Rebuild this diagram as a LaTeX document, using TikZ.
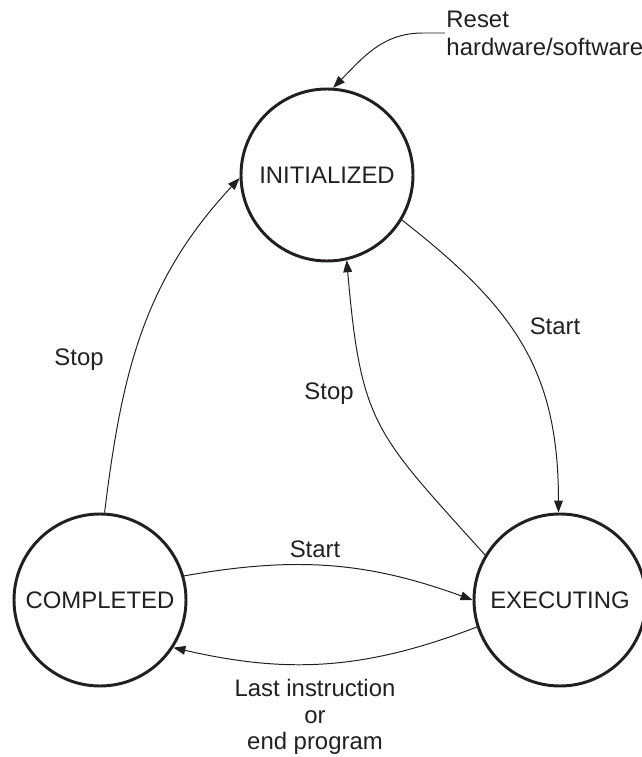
\documentclass[tikz,border=0pt]{standalone}
\usepackage{fontspec}
\setmainfont{Liberation Sans}
\usetikzlibrary{arrows.meta, positioning}
\definecolor{ink}{RGB}{35,31,32}

\begin{document}
\begin{tikzpicture}[
  font=\fontsize{17}{20}\selectfont,
  state/.style={draw=ink, circle, line width=2.1pt, minimum size=4.3cm,
                text=ink, inner sep=0pt},
  lbl/.style={text=ink, align=center, inner sep=1pt},
  arr/.style={-{Triangle[length=0.3cm, width=0.22cm]}, line width=0.7pt, draw=ink},
]
\useasboundingbox (0,0) rectangle (16.05,18.925);

%% States
\node[state] (init) at (8.175, 14.55) {INITIALIZED};
\node[state] (comp) at (2.5, 3.925) {COMPLETED};
\node[state] (exec) at (14.0, 3.925) {EXECUTING};

%% Reset
\node[lbl, align=left, anchor=west] (reset) at (11.12, 18.1) {Reset\\hardware/software};
\draw[arr] (reset.west) -- ++(-0.55,0) to[out=180, in=45] (init.86);

%% Transitions
\draw[arr] (init.-31) to[out=-38, in=90, looseness=1.1] (exec.91);
\draw[arr] (exec.149) to[out=132, in=-85, looseness=1.3] (init.-77);
\draw[arr] (comp.87) to[out=83, in=227] (init.182);
\draw[arr] (comp.16) to[out=10, in=160] (exec.180);
\draw[arr] (exec.198) to[out=201, in=-13] (comp.-33);

%% Labels
\node[lbl] (start1) at (13.875, 10.775) {Start};
\node[lbl] (stop1) at (8.225, 9.075) {Stop};
\node[lbl] (stop2) at (1.975, 9.925) {Stop};
\node[lbl] (start2) at (7.875, 5.2) {Start};
\node[lbl, font=\fontsize{17}{19}\selectfont] (last) at (7.875, 1.0)
  {Last instruction\\or\\end program};

\end{tikzpicture}
\end{document}
